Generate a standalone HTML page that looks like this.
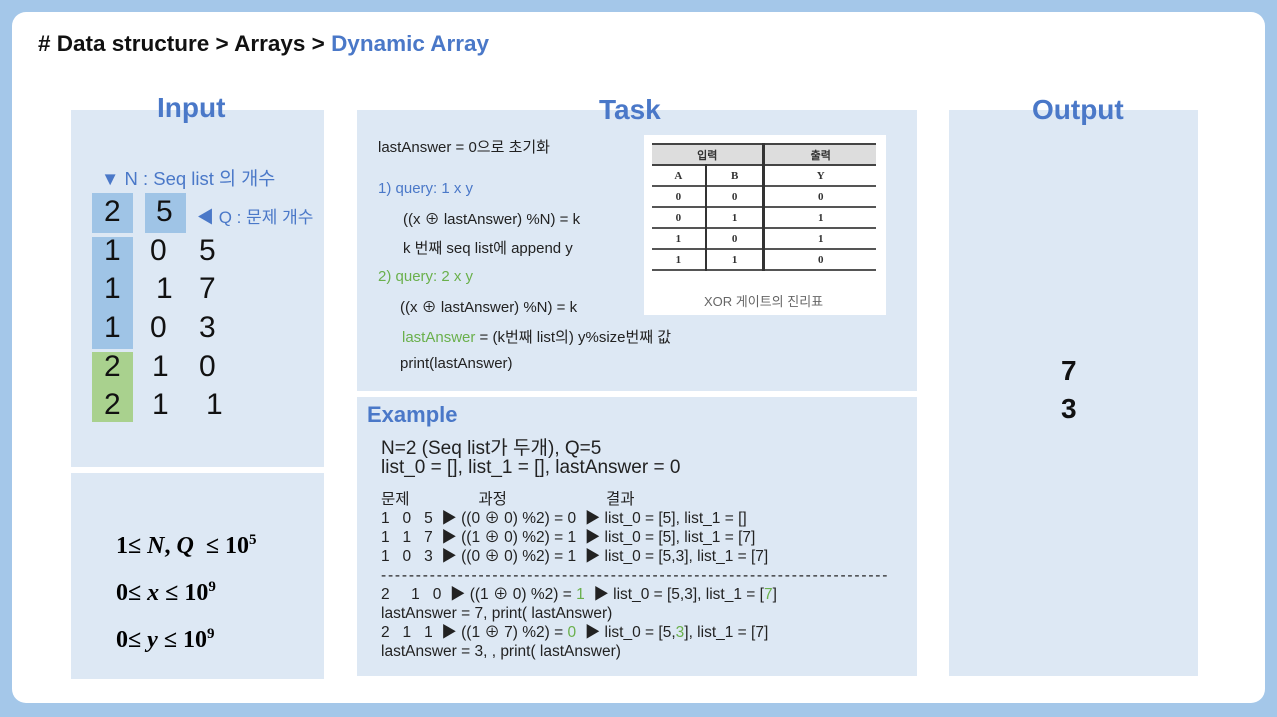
<!DOCTYPE html>
<html><head><meta charset="utf-8"><style>
body{margin:0;width:1277px;height:717px;background:#a4c7e9;position:relative;overflow:hidden;font-family:"Liberation Sans","Noto Sans CJK KR",sans-serif;}
.card{position:absolute;left:12px;top:12px;width:1253px;height:691px;background:#fff;border-radius:14px;}
.p{position:absolute;background:#dde8f4;}
.t{position:absolute;white-space:nowrap;}
.h{color:#4a78c8;font-weight:bold;font-size:28px;}
.b{position:absolute;background:#9fc4e6;}
.g{position:absolute;background:#a9d18e;}
.n{position:absolute;font-size:30px;color:#111;}
.s{font-size:15px;color:#222;}
.e{font-size:19px;color:#222;}
.x{font-size:15.5px;color:#222;}
.gr{color:#6ab04c}
table{border-collapse:collapse;font-family:"Liberation Serif",serif;font-size:11px;font-weight:bold;color:#333;}
</style></head><body>
<div class="card"></div>
<div class="t" style="left:38px;top:31px;font-size:22.5px;font-weight:bold;color:#111;"># Data structure &gt; Arrays &gt; <span style="color:#4a78c8">Dynamic Array</span></div>

<div class="p" style="left:71px;top:110px;width:253px;height:357px"></div>
<div class="p" style="left:71px;top:473px;width:253px;height:206px"></div>
<div class="p" style="left:357px;top:110px;width:560px;height:281px"></div>
<div class="p" style="left:357px;top:397px;width:560px;height:279px"></div>
<div class="p" style="left:949px;top:110px;width:249px;height:566px"></div>

<div class="t h" style="left:157px;top:92px;">Input</div>
<div class="t h" style="left:599px;top:94px;">Task</div>
<div class="t h" style="left:1032px;top:94px;">Output</div>

<div class="t" style="left:101px;top:165px;font-size:18.5px;color:#4a78c8;">▼ N : Seq list 의 개수</div>
<div class="b" style="left:92px;top:193px;width:41px;height:40px"></div>
<div class="b" style="left:145px;top:193px;width:41px;height:40px"></div>
<div class="t" style="left:197px;top:203px;font-size:17px;color:#4a78c8;">◀ Q : 문제 개수</div>
<div class="b" style="left:92px;top:237px;width:41px;height:112px"></div>
<div class="g" style="left:92px;top:352px;width:41px;height:70px"></div>
<div class="n" style="left:104px;top:195px">2</div><div class="n" style="left:156px;top:195px">5</div>
<div class="n" style="left:104px;top:234px">1</div><div class="n" style="left:150px;top:234px">0</div><div class="n" style="left:199px;top:234px">5</div>
<div class="n" style="left:104px;top:272px">1</div><div class="n" style="left:156px;top:272px">1</div><div class="n" style="left:199px;top:272px">7</div>
<div class="n" style="left:104px;top:311px">1</div><div class="n" style="left:150px;top:311px">0</div><div class="n" style="left:199px;top:311px">3</div>
<div class="n" style="left:104px;top:350px">2</div><div class="n" style="left:152px;top:350px">1</div><div class="n" style="left:199px;top:350px">0</div>
<div class="n" style="left:104px;top:388px">2</div><div class="n" style="left:152px;top:388px">1</div><div class="n" style="left:206px;top:388px">1</div>

<div class="t" style="left:116px;top:520px;font-size:24px;font-weight:bold;font-family:'Liberation Serif',serif;line-height:41px;">1≤ <i>N</i>, <i>Q</i> &nbsp;≤ 10<sup style="font-size:15px">5</sup><br>0≤ <i>x</i> ≤ 10<sup style="font-size:15px">9</sup><br>0≤ <i>y</i> ≤ 10<sup style="font-size:15px">9</sup></div>

<div class="t s" style="left:378px;top:136px;">lastAnswer = 0으로 초기화</div>
<div class="t s" style="left:378px;top:180px;color:#4a78c8">1) query: 1 x y</div>
<div class="t s" style="left:403px;top:208px;">((x ⊕ lastAnswer) %N) = k</div>
<div class="t s" style="left:403px;top:237px;">k 번째 seq list에 append y</div>
<div class="t s gr" style="left:378px;top:268px;">2) query: 2 x y</div>
<div class="t s" style="left:400px;top:296px;">((x ⊕ lastAnswer) %N) = k</div>
<div class="t s" style="left:402px;top:326px;"><span class="gr">lastAnswer</span> = (k번째 list의) y%size번째 값</div>
<div class="t s" style="left:400px;top:355px;">print(lastAnswer)</div>

<div style="position:absolute;left:644px;top:135px;width:242px;height:180px;background:#fff;">
<table style="position:absolute;left:8px;top:8px;width:224px;text-align:center;">
<tr style="background:#ddd;border-top:2px solid #444;border-bottom:2px solid #444;height:21px"><td colspan="2" style="border-right:3px solid #333">입력</td><td>출력</td></tr>
<tr style="height:21px;border-bottom:2px solid #555"><td style="border-right:2px solid #333">A</td><td style="border-right:3px solid #333">B</td><td>Y</td></tr>
<tr style="height:21px;border-bottom:2px solid #555"><td style="border-right:2px solid #333">0</td><td style="border-right:3px solid #333">0</td><td>0</td></tr>
<tr style="height:21px;border-bottom:2px solid #555"><td style="border-right:2px solid #333">0</td><td style="border-right:3px solid #333">1</td><td>1</td></tr>
<tr style="height:21px;border-bottom:2px solid #555"><td style="border-right:2px solid #333">1</td><td style="border-right:3px solid #333">0</td><td>1</td></tr>
<tr style="height:21px;border-bottom:2px solid #555"><td style="border-right:2px solid #333">1</td><td style="border-right:3px solid #333">1</td><td>0</td></tr>
</table>
<div class="t" style="left:60px;top:156px;font-size:13px;color:#666">XOR 게이트의 진리표</div>
</div>

<div class="t" style="left:367px;top:402px;font-size:22px;font-weight:bold;color:#4a78c8">Example</div>
<div class="t e" style="left:381px;top:433px;">N=2 (Seq list가 두개), Q=5</div>
<div class="t e" style="left:381px;top:457px;">list_0 = [], list_1 = [], lastAnswer = 0</div>
<div class="t x" style="left:381px;top:490px;line-height:19px;">문제&nbsp;&nbsp;&nbsp;&nbsp;&nbsp;&nbsp;&nbsp;&nbsp;&nbsp;&nbsp;&nbsp;&nbsp;&nbsp;&nbsp;&nbsp;&nbsp;과정&nbsp;&nbsp;&nbsp;&nbsp;&nbsp;&nbsp;&nbsp;&nbsp;&nbsp;&nbsp;&nbsp;&nbsp;&nbsp;&nbsp;&nbsp;&nbsp;&nbsp;&nbsp;&nbsp;&nbsp;&nbsp;&nbsp;&nbsp;결과<br>
1&nbsp;&nbsp;&nbsp;0&nbsp;&nbsp;&nbsp;5&nbsp;&nbsp;▶ ((0 ⊕ 0) %2) = 0&nbsp;&nbsp;▶ list_0 = [5], list_1 = []<br>
1&nbsp;&nbsp;&nbsp;1&nbsp;&nbsp;&nbsp;7&nbsp;&nbsp;▶ ((1 ⊕ 0) %2) = 1&nbsp;&nbsp;▶ list_0 = [5], list_1 = [7]<br>
1&nbsp;&nbsp;&nbsp;0&nbsp;&nbsp;&nbsp;3&nbsp;&nbsp;▶ ((0 ⊕ 0) %2) = 1&nbsp;&nbsp;▶ list_0 = [5,3], list_1 = [7]<br>
<span style="letter-spacing:1.8px">-------------------------------------------------------------------------</span><br>
2&nbsp;&nbsp;&nbsp;&nbsp;&nbsp;1&nbsp;&nbsp;&nbsp;0&nbsp;&nbsp;▶ ((1 ⊕ 0) %2) = <span class="gr">1</span>&nbsp;&nbsp;▶ list_0 = [5,3], list_1 = [<span class="gr">7</span>]<br>
lastAnswer = 7, print( lastAnswer)<br>
2&nbsp;&nbsp;&nbsp;1&nbsp;&nbsp;&nbsp;1&nbsp;&nbsp;▶ ((1 ⊕ 7) %2) = <span class="gr">0</span>&nbsp;&nbsp;▶ list_0 = [5,<span class="gr">3</span>], list_1 = [7]<br>
lastAnswer = 3, , print( lastAnswer)</div>

<div class="t" style="left:1061px;top:352px;font-size:28px;font-weight:bold;color:#111;line-height:38px;">7<br>3</div>
</body></html>
